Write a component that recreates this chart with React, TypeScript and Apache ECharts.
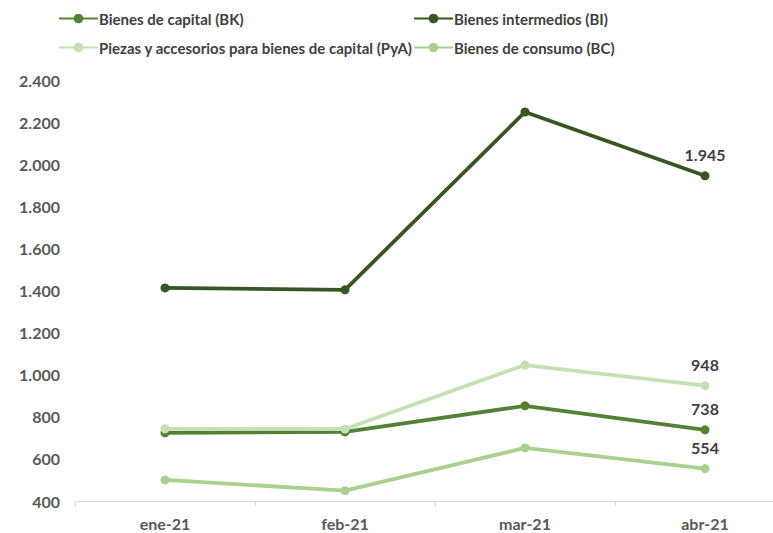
import React, { useEffect, useRef } from "react";
import * as echarts from "echarts";

const categories = ["ene-21", "feb-21", "mar-21", "abr-21"];
const seriesNames = [
  "Bienes de capital (BK)",
  "Bienes intermedios (BI)",
  "Piezas y accesorios para bienes de capital (PyA)",
  "Bienes de consumo (BC)",
];
const bkValues = [724, 728, 852, 738];
const biValues = [1412, 1403, 2248, 1945];
const pyaValues = [743, 742, 1046, 948];
const bcValues = [500, 449, 652, 554];
const yTicks = { min: 400, max: 2400, interval: 200 };

const colors = ["#548235", "#375623", "#C5E0B4", "#A9D18E"];
const FONT = "Lato, 'Open Sans', sans-serif";

const fmt = (v: number) => {
  const s = Math.round(v).toString();
  return s.replace(/\B(?=(\d{3})+(?!\d))/g, ".");
};

export default function App() {
  const ref = useRef<HTMLDivElement>(null);
  useEffect(() => {
    document.body.style.margin = "0";
    if (!ref.current) return;
    const chart = echarts.init(ref.current, null, { renderer: "svg" });
    const allValues = [bkValues, biValues, pyaValues, bcValues];
    const legendPos = [
      { left: 58, top: 11 },
      { left: 413, top: 11 },
      { left: 58, top: 40 },
      { left: 413, top: 40 },
    ];
    chart.setOption({
      animation: false,
      textStyle: { fontFamily: FONT },
      legend: seriesNames.map((n, i) => ({
        data: [n],
        left: legendPos[i].left,
        top: legendPos[i].top,
        itemWidth: 39,
        itemHeight: 12,
        itemGap: 4,
        padding: 0,
        textStyle: { fontFamily: FONT, fontSize: 15, fontWeight: "bold", color: "#404040", padding: [0, 0, 0, -4] },
        selectedMode: false,
      })),
      grid: { left: 75, top: 80, width: 720, height: 421, containLabel: false },
      xAxis: {
        type: "category",
        data: categories,
        boundaryGap: true,
        axisLine: { lineStyle: { color: "#D9D9D9", width: 1 } },
        axisTick: { show: true, length: 5, lineStyle: { color: "#D9D9D9" } },
        axisLabel: { fontFamily: FONT, fontSize: 16, fontWeight: "bold", color: "#595959", margin: 14 },
      },
      yAxis: {
        type: "value",
        min: yTicks.min,
        max: yTicks.max,
        interval: yTicks.interval,
        axisLine: { show: false },
        axisTick: { show: false },
        splitLine: { show: false },
        axisLabel: {
          fontFamily: FONT,
          fontSize: 16,
          fontWeight: "bold",
          color: "#595959",
          margin: 15,
          formatter: (v: number) => fmt(v),
        },
      },
      series: seriesNames.map((n, i) => ({
        name: n,
        type: "line",
        data: allValues[i],
        symbol: "circle",
        symbolSize: 9,
        lineStyle: { color: colors[i], width: 3.8 },
        itemStyle: { color: colors[i] },
        z: i === 1 ? 3 : 2,
        label: {
          show: true,
          position: "top",
          distance: 9,
          fontFamily: FONT,
          fontSize: 16,
          fontWeight: "bold",
          color: "#404040",
          formatter: (p: any) => (p.dataIndex === categories.length - 1 ? fmt(p.value) : ""),
        },
      })),
    });
    return () => chart.dispose();
  }, []);
  return (
    <div style={{ width: 773, height: 533, overflow: "hidden", position: "relative" }}>
      <div ref={ref} style={{ width: 820, height: 533 }} />
    </div>
  );
}
